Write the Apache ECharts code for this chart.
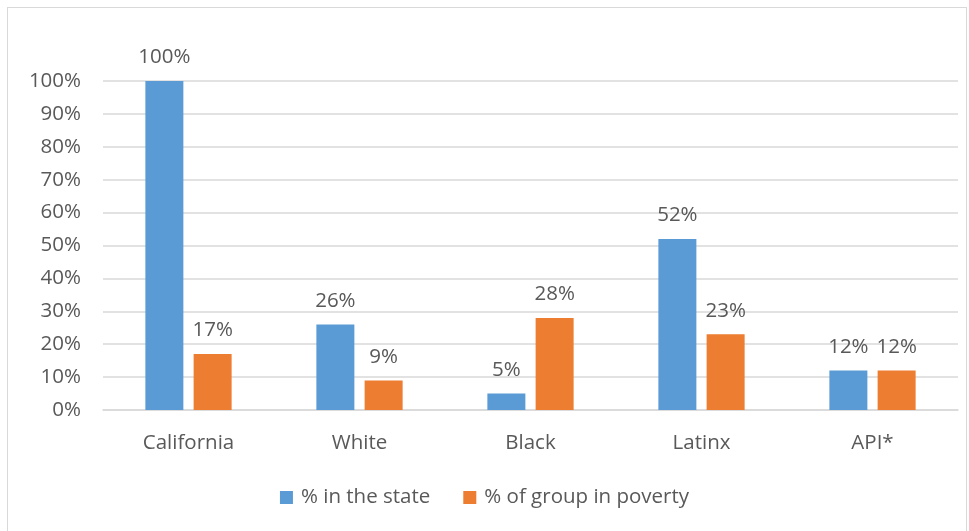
<!DOCTYPE html>
<html>
<head>
<meta charset="utf-8">
<script src="https://cdn.jsdelivr.net/npm/echarts@6/dist/echarts.min.js"></script>
<style>
  html, body { margin: 0; padding: 0; background: #fff; }
  #frame { position: absolute; left: 7px; top: 7px; width: 960px; height: 530px; box-sizing: border-box; border: 1.5px solid #d9d9d9; border-bottom: none; }
  #chart { width: 969px; height: 531px; }
</style>
</head>
<body>
<div id="frame"></div>
<div id="chart"></div>
<script>
const categories = ['California', 'White', 'Black', 'Latinx', 'API*'];
const shareOfState = [100, 26, 5, 52, 12];
const shareInPoverty = [17, 9, 28, 23, 12];
const seriesNames = ['% in the state', '% of group in poverty'];

const font = 'Open Sans';
const textColor = '#595959';
const fontSize = 20.5;

const chart = echarts.init(document.getElementById('chart'), null, { renderer: 'canvas' });

const barLabel = {
  show: true,
  position: 'top',
  distance: 13,
  formatter: p => p.value + '%',
  color: textColor,
  fontFamily: font,
  fontSize: fontSize
};

chart.setOption({
  animation: false,
  textStyle: { fontFamily: font },
  grid: { left: 103, right: 11, top: 81, bottom: 121, containLabel: false },
  legend: {
    bottom: 18,
    left: 'center',
    itemWidth: 13,
    itemHeight: 13,
    itemGap: 33,
    icon: 'rect',
    textStyle: { color: textColor, fontSize: fontSize, fontFamily: font, padding: [0, 0, 0, 3] },
    data: seriesNames
  },
  xAxis: {
    type: 'category',
    data: categories,
    axisLine: { lineStyle: { color: '#d9d9d9', width: 1.5 } },
    axisTick: { show: false },
    axisLabel: { color: textColor, fontSize: fontSize, fontFamily: font, margin: 23 }
  },
  yAxis: {
    type: 'value',
    min: 0,
    max: 100,
    interval: 10,
    axisLine: { show: false },
    axisTick: { show: false },
    splitLine: { lineStyle: { color: '#d9d9d9', width: 1.5 } },
    axisLabel: { color: textColor, fontSize: fontSize, fontFamily: font, margin: 22, formatter: '{value}%' }
  },
  series: [
    {
      name: seriesNames[0],
      type: 'bar',
      data: shareOfState,
      barWidth: 38,
      barGap: '27%',
      itemStyle: { color: '#5b9bd5' },
      label: barLabel
    },
    {
      name: seriesNames[1],
      type: 'bar',
      data: shareInPoverty,
      barWidth: 38,
      itemStyle: { color: '#ed7d31' },
      label: barLabel
    }
  ]
});
</script>
</body>
</html>
